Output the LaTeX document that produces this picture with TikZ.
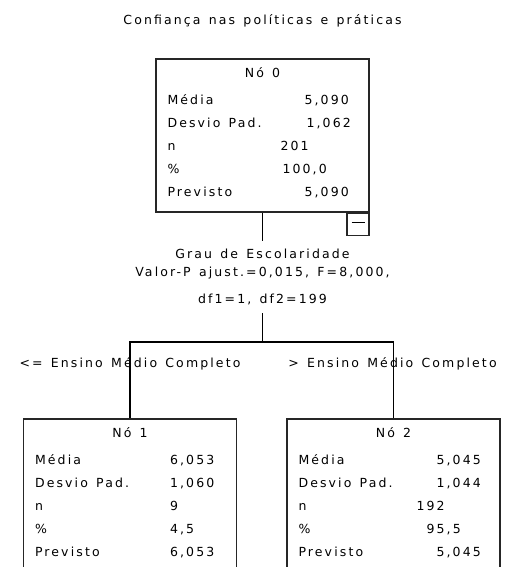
\documentclass[tikz,border=0pt]{standalone}
\usepackage{fontspec}
\setmainfont[LetterSpace=17, WordSpace=1.35]{DejaVu Sans}
\usetikzlibrary{positioning,calc}

\begin{document}
\begin{tikzpicture}[x=1pt, y=-1pt,
  font=\fontsize{12.5}{18}\selectfont,
  nodebox/.style={draw=black!85, line width=1.4pt, minimum width=213pt,
    minimum height=153pt, inner sep=0pt},
  hdr/.style={anchor=base, inner sep=0pt},
  lbl/.style={anchor=base west, inner sep=0pt},
  split/.style={align=center, inner xsep=0pt, inner ysep=8pt},
  link/.style={draw=black, line width=1.2pt}]
\fill[white] (0,0) rectangle (509,567);
\clip (0,0) rectangle (509,567);
\node[anchor=base] (title) at (262.5,25) {Confiança nas políticas e práticas};
% the three nodes of the tree
\node[nodebox] (n0) at (262.5,135.5) {};
\node[nodebox] (n1) at (130,495.5) {};
\node[nodebox] (n2) at (393.5,495.5) {};
\node[draw=black!85, line width=1.4pt, minimum size=22pt, inner sep=0pt,
  anchor=north east] (tog) at (n0.south east) {\rule[3.5pt]{13pt}{1.2pt}};
\node[hdr] at ($(n0.north)+(0,19.5)$) {Nó 0};
\node[hdr] at ($(n1.north)+(0,19.5)$) {Nó 1};
\node[hdr] at ($(n2.north)+(0,19.5)$) {Nó 2};
\foreach \b in {n0,n1,n2}{
  \foreach \t [count=\k from 0] in {Média,Desvio Pad.,n,\%,Previsto}
    \node[lbl] at ($(\b.north west)+(12,46.5+23*\k)$) {\t};
}
% values
\node[lbl] at ($(n0.north west)+(149,46.5)$) {5,090};
\node[lbl] at ($(n0.north west)+(151,69.5)$) {1,062};
\node[lbl] at ($(n0.north west)+(125,92.5)$) {201};
\node[lbl] at ($(n0.north west)+(127,115.5)$) {100,0};
\node[lbl] at ($(n0.north west)+(149,138.5)$) {5,090};
\node[lbl] at ($(n1.north west)+(147,46.5)$) {6,053};
\node[lbl] at ($(n1.north west)+(147,69.5)$) {1,060};
\node[lbl] at ($(n1.north west)+(147,92.5)$) {9};
\node[lbl] at ($(n1.north west)+(147,115.5)$) {4,5};
\node[lbl] at ($(n1.north west)+(147,138.5)$) {6,053};
\node[lbl] at ($(n2.north west)+(150,46.5)$) {5,045};
\node[lbl] at ($(n2.north west)+(150,69.5)$) {1,044};
\node[lbl] at ($(n2.north west)+(130,92.5)$) {192};
\node[lbl] at ($(n2.north west)+(140,115.5)$) {95,5};
\node[lbl] at ($(n2.north west)+(150,138.5)$) {5,045};
% the split
\node[split, anchor=north] (sp) at ($(n0.south)+(0,28)$)
  {Grau de Escolaridade\\Valor-P ajust.=0,015, F=8,000,\\[9pt]df1=1, df2=199};
\coordinate (fork) at ($(sp.south)+(0,29)$);
\draw[link] (n0.south) -- (sp.north);
\draw[link] (sp.south) -- (fork);
\draw[link] (n1.north) |- (fork) -| (n2.north);
\node[anchor=base] (b1) at (130,367.5) {<= Ensino Médio Completo};
\node[anchor=base] (b2) at (392.5,367.5) {> Ensino Médio Completo};
\end{tikzpicture}
\end{document}
